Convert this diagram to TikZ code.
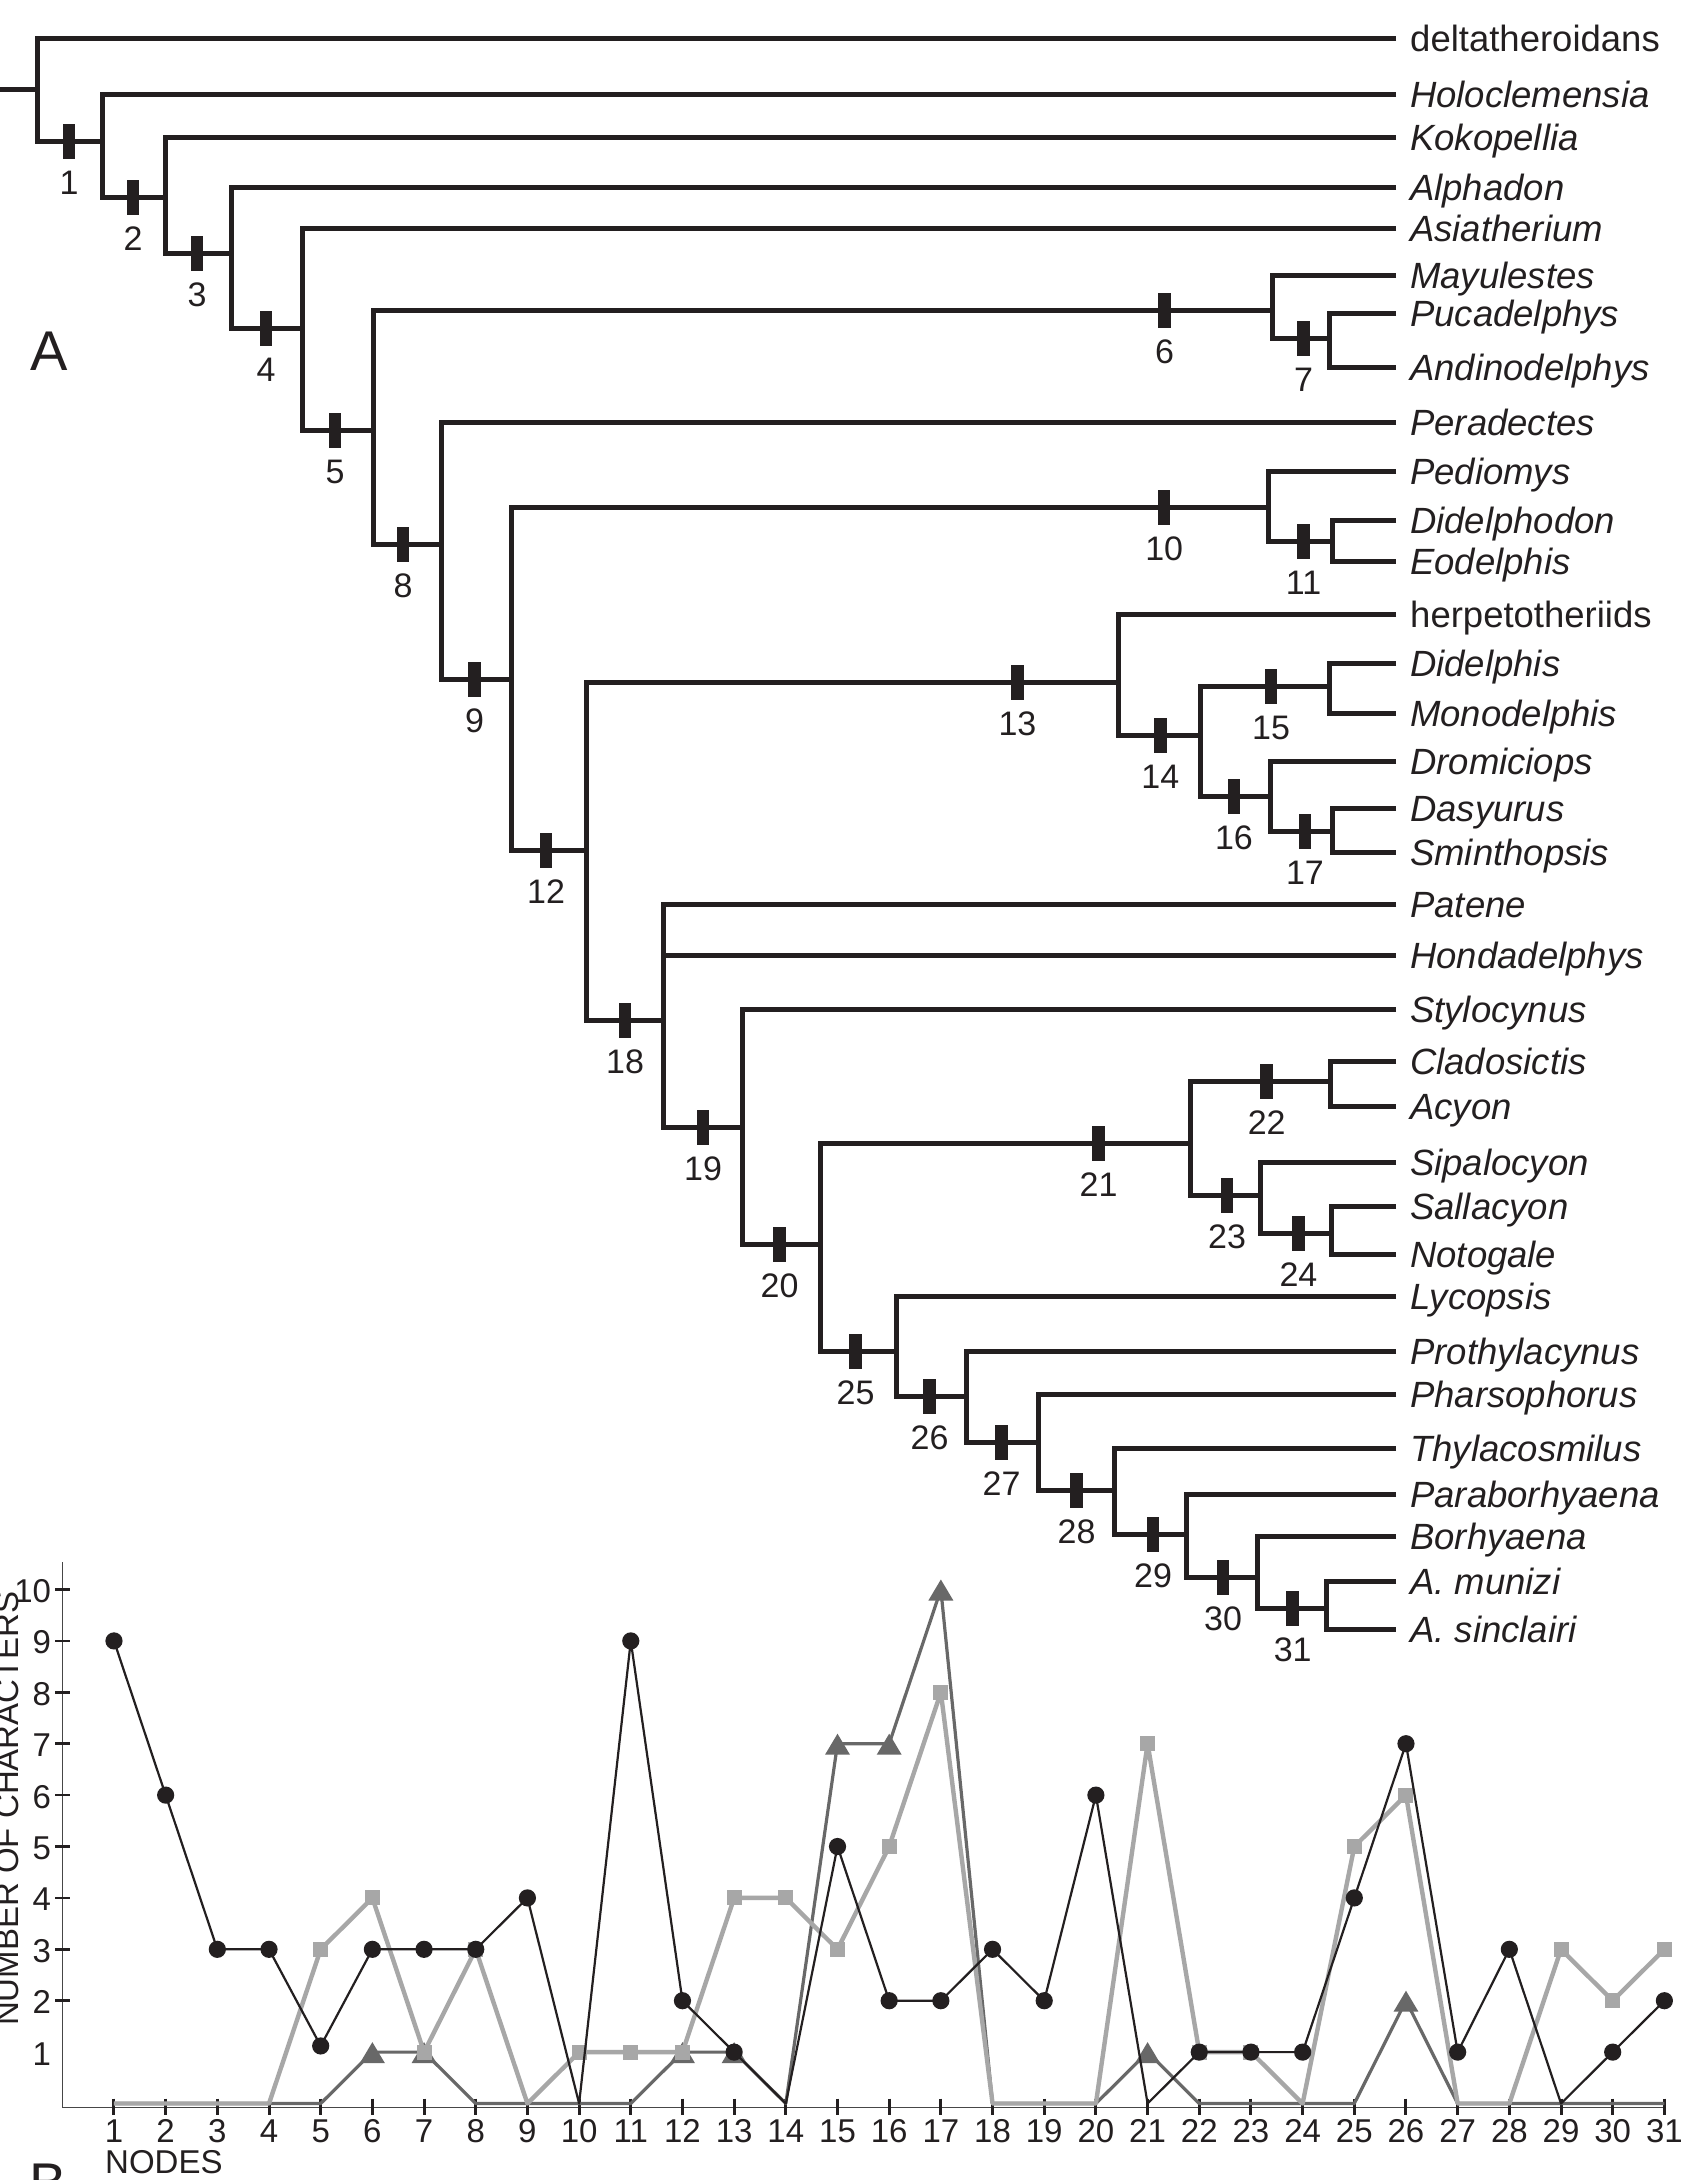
\documentclass[tikz,border=0pt]{standalone}
\usepackage{fontspec}
\setmainfont{Liberation Sans}
\usetikzlibrary{calc}
\definecolor{ink}{RGB}{35,31,32}
\definecolor{lgray}{RGB}{167,167,167}
\definecolor{dgray}{RGB}{104,104,104}
\definecolor{axgray}{RGB}{70,70,70}
\newcommand\mytip[3]{\coordinate (t#1) at (1396,#2); \node[tiplab] (L#1) at (1410,#2+13) {#3};}
\newcommand\mytick[3]{\node[tickbar] (k#1) at (#2,#3) {}; \node[numlab] (n#1) at (#2,#3+53) {#1};}
\begin{document}
\begin{tikzpicture}[x=1pt,y=-1pt,
 br/.style={draw=ink,line width=5pt,line join=miter,line cap=butt},
 tickbar/.style={fill=ink,draw=none,inner sep=0pt,minimum width=12.5pt,minimum height=35pt},
 numlab/.style={anchor=base,inner sep=0pt,text=ink,font=\fontsize{34}{38}\selectfont},
 tiplab/.style={anchor=base west,inner sep=0pt,text=ink,font=\fontsize{36.5}{42}\selectfont},
 chartnum/.style={inner sep=0pt,text=ink,font=\fontsize{33}{38}\selectfont},
 axisline/.style={draw=axgray,line width=1.6pt},
 xtk/.style={draw=ink,line width=3pt},
 ytk/.style={draw=ink,line width=2.7pt},
 kser/.style={draw=ink,line width=2.2pt,line join=round},
 lser/.style={draw=lgray,line width=4.4pt,line join=round},
 dser/.style={draw=dgray,line width=3.2pt,line join=round}]
\useasboundingbox (0,0) rectangle (1683,2180);
\fill[white] (0,0) rectangle (1683,2180);

% ---------- terminals ----------
\mytip{1}{38.3}{deltatheroidans}
\mytip{2}{94.5}{\textit{Holoclemensia}}
\mytip{3}{137}{\textit{Kokopellia}}
\mytip{4}{187.5}{\textit{Alphadon}}
\mytip{5}{228.5}{\textit{Asiatherium}}
\mytip{6}{275.5}{\textit{Mayulestes}}
\mytip{7}{313.8}{\textit{Pucadelphys}}
\mytip{8}{367.4}{\textit{Andinodelphys}}
\mytip{9}{422.1}{\textit{Peradectes}}
\mytip{10}{471.5}{\textit{Pediomys}}
\mytip{11}{520.5}{\textit{Didelphodon}}
\mytip{12}{561.4}{\textit{Eodelphis}}
\mytip{13}{614.4}{herpetotheriids}
\mytip{14}{663.4}{\textit{Didelphis}}
\mytip{15}{713.2}{\textit{Monodelphis}}
\mytip{16}{761}{\textit{Dromiciops}}
\mytip{17}{808.9}{\textit{Dasyurus}}
\mytip{18}{852.9}{\textit{Sminthopsis}}
\mytip{19}{904.5}{\textit{Patene}}
\mytip{20}{955.8}{\textit{Hondadelphys}}
\mytip{21}{1009.4}{\textit{Stylocynus}}
\mytip{22}{1061.4}{\textit{Cladosictis}}
\mytip{23}{1106.2}{\textit{Acyon}}
\mytip{24}{1162}{\textit{Sipalocyon}}
\mytip{25}{1206.1}{\textit{Sallacyon}}
\mytip{26}{1254.2}{\textit{Notogale}}
\mytip{27}{1296.6}{\textit{Lycopsis}}
\mytip{28}{1351.7}{\textit{Prothylacynus}}
\mytip{29}{1394.8}{\textit{Pharsophorus}}
\mytip{30}{1448.8}{\textit{Thylacosmilus}}
\mytip{31}{1494.4}{\textit{Paraborhyaena}}
\mytip{32}{1536.9}{\textit{Borhyaena}}
\mytip{33}{1581.4}{\textit{A. munizi}}
\mytip{34}{1629.8}{\textit{A. sinclairi}}

% ---------- internal nodes ----------
\coordinate (stem) at (0,89);
\coordinate (root) at (37,89);
\coordinate (c1) at (102,141.7);
\coordinate (c2) at (165.3,197.7);
\coordinate (c3) at (231.5,253.3);
\coordinate (c4) at (302.3,328.3);
\coordinate (c5) at (373,430);
\coordinate (c6) at (1272,310);
\coordinate (c7) at (1329,338.7);
\coordinate (c8) at (441.3,544);
\coordinate (c9) at (511.7,679.6);
\coordinate (c10) at (1268,507.6);
\coordinate (c11) at (1332,541.5);
\coordinate (c12) at (586.7,850);
\coordinate (c13) at (1118.5,682.6);
\coordinate (c14) at (1200.4,735);
\coordinate (c15) at (1329,686.4);
\coordinate (c16) at (1270,796.2);
\coordinate (c17) at (1332,831.8);
\coordinate (c18) at (663,1020);
\coordinate (c19) at (742.3,1127.2);
\coordinate (c20) at (820,1244.6);
\coordinate (c21) at (1190,1143);
\coordinate (c22) at (1330,1081.7);
\coordinate (c23) at (1260.5,1195);
\coordinate (c24) at (1331,1233);
\coordinate (c25) at (896.4,1351.3);
\coordinate (c26) at (966.8,1396);
\coordinate (c27) at (1038.3,1442.9);
\coordinate (c28) at (1114.8,1490.2);
\coordinate (c29) at (1186.2,1534.8);
\coordinate (c30) at (1257.7,1577.2);
\coordinate (c31) at (1326.7,1608);

% ---------- branches ----------
\draw[br] (stem) -- (root);
\draw[br] (t1) -| (root) |- (c1);
\draw[br] (t2) -| (c1) |- (c2);
\draw[br] (t3) -| (c2) |- (c3);
\draw[br] (t4) -| (c3) |- (c4);
\draw[br] (t5) -| (c4) |- (c5);
\draw[br] (c6) -| (c5) |- (c8);
\draw[br] (t6) -| (c6) |- (c7);
\draw[br] (t7) -| (c7) |- (t8);
\draw[br] (t9) -| (c8) |- (c9);
\draw[br] (c10) -| (c9) |- (c12);
\draw[br] (t10) -| (c10) |- (c11);
\draw[br] (t11) -| (c11) |- (t12);
\draw[br] (c13) -| (c12) |- (c18);
\draw[br] (t13) -| (c13) |- (c14);
\draw[br] (c15) -| (c14) |- (c16);
\draw[br] (t14) -| (c15) |- (t15);
\draw[br] (t16) -| (c16) |- (c17);
\draw[br] (t17) -| (c17) |- (t18);
\draw[br] (t19) -| (c18) |- (c19);
\draw[br] (c18 |- t20) -- (t20);
\draw[br] (t21) -| (c19) |- (c20);
\draw[br] (c21) -| (c20) |- (c25);
\draw[br] (c22) -| (c21) |- (c23);
\draw[br] (t22) -| (c22) |- (t23);
\draw[br] (t24) -| (c23) |- (c24);
\draw[br] (t25) -| (c24) |- (t26);
\draw[br] (t27) -| (c25) |- (c26);
\draw[br] (t28) -| (c26) |- (c27);
\draw[br] (t29) -| (c27) |- (c28);
\draw[br] (t30) -| (c28) |- (c29);
\draw[br] (t31) -| (c29) |- (c30);
\draw[br] (t32) -| (c30) |- (c31);
\draw[br] (t33) -| (c31) |- (t34);

% ---------- node ticks & numbers ----------
\mytick{1}{69}{141.7}
\mytick{2}{133}{197.7}
\mytick{3}{197}{253.3}
\mytick{4}{266}{328.3}
\mytick{5}{335}{430}
\mytick{6}{1164.5}{310}
\mytick{7}{1303.6}{338.7}
\mytick{8}{403}{544}
\mytick{9}{474.5}{679.6}
\mytick{10}{1164.2}{507.6}
\mytick{11}{1303.6}{541.5}
\mytick{12}{546}{850}
\mytick{13}{1017.4}{682.6}
\mytick{14}{1160.3}{735}
\mytick{15}{1271}{686.4}
\mytick{16}{1233.9}{796.2}
\mytick{17}{1304.9}{831.8}
\mytick{18}{625}{1020}
\mytick{19}{703}{1127.2}
\mytick{20}{779.6}{1244.6}
\mytick{21}{1098.5}{1143}
\mytick{22}{1266.7}{1081.7}
\mytick{23}{1227}{1195}
\mytick{24}{1298.4}{1233}
\mytick{25}{855.6}{1351.3}
\mytick{26}{929.6}{1396}
\mytick{27}{1001.5}{1442.9}
\mytick{28}{1076.5}{1490.2}
\mytick{29}{1153}{1534.8}
\mytick{30}{1223}{1577.2}
\mytick{31}{1292.7}{1608}

\node[anchor=base,inner sep=0pt,text=ink,font=\fontsize{56}{60}\selectfont] (labA) at (49,370) {A};

% ---------- chart ----------
\begin{scope}[shift={(62.3,2103.5)},x=51.68pt,y=51.4pt]
\draw[axisline] (0,10.53) coordinate (ytop) -- (0,-0.08) coordinate (orig) -- (31.02,-0.08) coordinate (xend);
\foreach \v in {2,...,10} \draw[ytk] (0,\v) ++(-7pt,0pt) -- ++(15pt,0pt);
\foreach \v in {1,...,10} \node[chartnum,anchor=base east] (yl\v) at ([xshift=-11pt,yshift=-13pt]0,\v) {\v};
\foreach \n in {1,...,31} {\draw[xtk] (\n,-0.08) ++(0pt,9pt) -- ++(0pt,-16pt);
  \node[chartnum,anchor=base] (xl\n) at ([yshift=-35pt]\n,-0.08) {\n};}

\draw[dser] plot coordinates {(1,0)(2,0)(3,0)(4,0)(5,0)(6,1)(7,1)(8,0)(9,0)(10,0)(11,0)(12,1)(13,1)(14,0)(15,7)(16,7)(17,10)(18,0)(19,0)(20,0)(21,1)(22,0)(23,0)(24,0)(25,0)(26,2)(27,0)(28,0)(29,0)(30,0)(31,0)};
\foreach \a/\b in {6/1,7/1,12/1,13/1,15/7,16/7,17/10,21/1,26/2}
  \fill[dgray] (\a,\b) ++(0pt,10pt) -- ++(-12.5pt,-21pt) -- ++(25pt,0pt) -- cycle;

\draw[lser] plot coordinates {(1,0)(2,0)(3,0)(4,0)(5,3)(6,4)(7,1)(8,3)(9,0)(10,1)(11,1)(12,1)(13,4)(14,4)(15,3)(16,5)(17,8)(18,0)(19,0)(20,0)(21,7)(22,1)(23,1)(24,0)(25,5)(26,6)(27,0)(28,0)(29,3)(30,2)(31,3)};
\foreach \a/\b in {5/3,6/4,7/1,8/3,10/1,11/1,12/1,13/4,14/4,15/3,16/5,17/8,21/7,22/1,23/1,25/5,26/6,29/3,30/2,31/3}
  \fill[lgray] (\a,\b) ++(-7.5pt,-7.5pt) rectangle ++(15pt,15pt);

\draw[kser] plot coordinates {(1,9)(2,6)(3,3)(4,3)(5,1.12)(6,3)(7,3)(8,3)(9,4)(10,0)(11,9)(12,2)(13,1)(14,0)(15,5)(16,2)(17,2)(18,3)(19,2)(20,6)(21,0)(22,1)(23,1)(24,1)(25,4)(26,7)(27,1)(28,3)(29,0)(30,1)(31,2)};
\foreach \a/\b in {1/9,2/6,3/3,4/3,5/1.12,6/3,7/3,8/3,9/4,11/9,12/2,13/1,15/5,16/2,17/2,18/3,19/2,20/6,22/1,23/1,24/1,25/4,26/7,27/1,28/3,30/1,31/2}
  \fill[ink] (\a,\b) circle[radius=8.6pt];
\end{scope}

\node[chartnum,anchor=base west] (nodeslab) at (105,2173.3) {NODES};
\node[rotate=90,anchor=base west,inner sep=0pt,text=ink,font=\fontsize{33}{38}\selectfont] (ylab) at (19,2026) {NUMBER OF CHARACTERS};
\node[anchor=base,inner sep=0pt,text=ink,font=\fontsize{56}{60}\selectfont] (labB) at (48,2202) {B};
\end{tikzpicture}
\end{document}
